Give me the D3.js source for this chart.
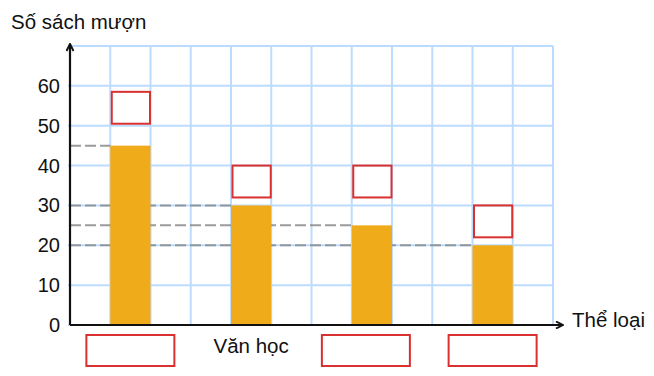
<!DOCTYPE html>
<html>
<head>
<meta charset="utf-8">
<script src="https://cdn.jsdelivr.net/npm/d3@7"></script>
<style>
  body { margin: 0; background: #fff; }
  text { font-family: "Liberation Sans", Arial, sans-serif; fill: #111; }
</style>
</head>
<body>
<div id="chart"></div>
<script>
// categories (only "Văn học" is given, the others are blank answer boxes)
const categories = ["c1", "Văn học", "c3", "c4"];
const labelShown = [false, true, false, false];
const values = [45, 30, 25, 20];
// blank answer boxes above the bars, in value units (bottom, top)
const boxLow = [50.5, 32, 32, 22];
const boxHigh = [58.5, 40, 40, 30];
const yTicks = [0, 10, 20, 30, 40, 50, 60];

const margin = {top: 46, right: 101, bottom: 51, left: 70},
    width = 654 - margin.left - margin.right,
    height = 376 - margin.top - margin.bottom;

let svg = d3.select("#chart")
            .append("svg")
            .attr("width", 654)
            .attr("height", 376);

let defs = svg.append("defs");
defs.append("marker")
    .attr("id", "arrow")
    .attr("viewBox", "0 0 10 10")
    .attr("refX", 9).attr("refY", 5)
    .attr("markerWidth", 4).attr("markerHeight", 4)
    .attr("orient", "auto")
  .append("path")
    .attr("d", "M1,1 L9,5 L1,9")
    .attr("fill", "none")
    .attr("stroke", "#111")
    .attr("stroke-width", 2.2);

let g = svg.append("g")
    .attr("transform", `translate(${margin.left}, ${margin.top})`);

const yScale = d3.scaleLinear()
    .domain([0, 70])
    .range([height, 0]);

const xScale = d3.scaleBand()
    .domain(categories)
    .range([0, width])
    .paddingInner(2 / 3)
    .paddingOuter(1 / 3);

// square grid: 3 columns per category
const colW = xScale.bandwidth();
const cols = d3.range(0, 13).map(i => i * colW);

g.append("g").selectAll("line")
  .data(d3.range(0, 80, 10))
  .join("line")
    .attr("x1", -2).attr("x2", width)
    .attr("y1", d => yScale(d)).attr("y2", d => yScale(d))
    .attr("stroke", "#bcdcff").attr("stroke-width", 2);

g.append("g").selectAll("line")
  .data(cols)
  .join("line")
    .attr("x1", d => d).attr("x2", d => d)
    .attr("y1", yScale(70)).attr("y2", height)
    .attr("stroke", "#bcdcff").attr("stroke-width", 2);

// dashed guide lines from axis to each bar
g.append("g").selectAll("line")
  .data(values)
  .join("line")
    .attr("x1", 0)
    .attr("x2", (d, i) => xScale(categories[i]))
    .attr("y1", d => yScale(d)).attr("y2", d => yScale(d))
    .attr("stroke", "#8a8a8a")
    .attr("stroke-opacity", 0.85)
    .attr("stroke-width", 2)
    .attr("stroke-dasharray", "11,4");

g.selectAll("rect.bar")
  .data(values)
  .join("rect")
    .attr("class", "bar")
    .attr("x", (d, i) => xScale(categories[i]))
    .attr("y", d => yScale(d))
    .attr("width", xScale.bandwidth())
    .attr("height", d => height - yScale(d))
    .attr("fill", "#f0ab1b");

// answer boxes above bars
g.selectAll("rect.box")
  .data(boxHigh)
  .join("rect")
    .attr("class", "box")
    .attr("x", (d, i) => xScale(categories[i]) + 1.5)
    .attr("y", d => yScale(d))
    .attr("width", xScale.bandwidth() - 2)
    .attr("height", (d, i) => yScale(boxLow[i]) - yScale(d))
    .attr("fill", "none")
    .attr("stroke", "#d93030")
    .attr("stroke-width", 2);

// category labels / blank boxes (third box sits a little left in the source)
const boxShift = [0, 0, -6, 0];
categories.forEach((c, i) => {
  const cx = xScale(c) + xScale.bandwidth() / 2;
  if (labelShown[i]) {
    g.append("text")
      .attr("x", cx).attr("y", height + 28)
      .attr("text-anchor", "middle")
      .attr("font-size", 20.5)
      .text(c);
  } else {
    g.append("rect")
      .attr("x", cx - 44 + boxShift[i]).attr("y", height + 10)
      .attr("width", 88).attr("height", 31)
      .attr("fill", "none")
      .attr("stroke", "#d93030")
      .attr("stroke-width", 2);
  }
});

// y tick labels
g.append("g").selectAll("text")
  .data(yTicks)
  .join("text")
    .attr("x", -10)
    .attr("y", d => yScale(d) + 7)
    .attr("text-anchor", "end")
    .attr("font-size", 20)
    .text(d => d);

// axes with arrows
g.append("line")
    .attr("x1", 0).attr("y1", height)
    .attr("x2", 0).attr("y2", -2)
    .attr("stroke", "#111").attr("stroke-width", 2.2)
    .attr("marker-end", "url(#arrow)");
g.append("line")
    .attr("x1", 0).attr("y1", height)
    .attr("x2", width + 10).attr("y2", height)
    .attr("stroke", "#111").attr("stroke-width", 2.2)
    .attr("marker-end", "url(#arrow)");

svg.append("text")
    .attr("x", 11).attr("y", 29)
    .attr("font-size", 20.5)
    .text("Số sách mượn");
svg.append("text")
    .attr("x", 572).attr("y", 327)
    .attr("font-size", 20.5)
    .text("Thể loại");
</script>
</body>
</html>
